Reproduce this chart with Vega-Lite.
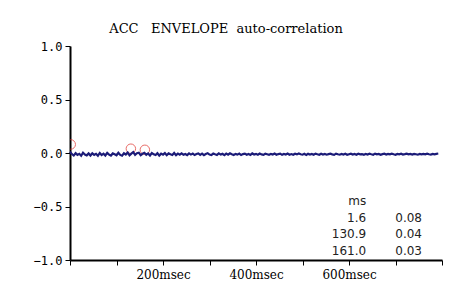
{
"$schema": "https://vega.github.io/schema/vega-lite/v6.json",
"width": 372, "height": 214,
"autosize": {"type": "none"},
"padding": {"left": 70, "top": 46, "right": 9, "bottom": 33},
"background": "white",
"config": {"view": {"stroke": null}},
"title": {"text": "ACC\u00a0\u00a0 ENVELOPE\u00a0\u00a0auto-correlation", "font": "DejaVu Serif", "fontSize": 13, "fontWeight": "normal", "color": "#000", "anchor": "middle", "dx": -30, "offset": 4},
"datasets": {
"acf": [
{"t":0,"v":0.012},{"t":4,"v":-0.01},{"t":8,"v":-0.024},{"t":12,"v":-0.002},{"t":16,"v":-0.018},{"t":20,"v":-0.008},{"t":24,"v":-0.026},{"t":28,"v":0.002},{"t":32,"v":-0.014},{"t":36,"v":-0.022},
{"t":40,"v":-0.004},{"t":44,"v":-0.024},{"t":48,"v":-0.003},{"t":52,"v":-0.017},{"t":56,"v":-0.008},{"t":60,"v":-0.026},{"t":64,"v":0.0},{"t":68,"v":-0.019},{"t":72,"v":-0.006},{"t":76,"v":-0.023},
{"t":80,"v":0.001},{"t":84,"v":-0.015},{"t":88,"v":-0.024},{"t":92,"v":-0.004},{"t":96,"v":-0.012},{"t":100,"v":-0.021},{"t":104,"v":0.002},{"t":108,"v":-0.018},{"t":112,"v":-0.025},{"t":116,"v":-0.003},
{"t":120,"v":-0.014},{"t":124,"v":0.005},{"t":128,"v":-0.022},{"t":132,"v":-0.006},{"t":136,"v":0.008},{"t":140,"v":-0.017},{"t":144,"v":-0.002},{"t":148,"v":0.003},{"t":152,"v":-0.02},{"t":156,"v":-0.007},
{"t":160,"v":0.002},{"t":164,"v":-0.016},{"t":168,"v":-0.004},{"t":172,"v":-0.023},{"t":176,"v":0.0},{"t":180,"v":-0.013},{"t":184,"v":-0.019},{"t":188,"v":-0.002},{"t":192,"v":-0.024},{"t":196,"v":-0.006},
{"t":200,"v":-0.015},{"t":204,"v":-0.001},{"t":208,"v":-0.021},{"t":212,"v":-0.004},{"t":216,"v":-0.012},{"t":220,"v":-0.019},{"t":224,"v":0.0},{"t":228,"v":-0.02},{"t":232,"v":-0.006},{"t":236,"v":-0.016},
{"t":240,"v":-0.003},{"t":244,"v":-0.017},{"t":248,"v":-0.009},{"t":252,"v":-0.02},{"t":256,"v":-0.004},{"t":260,"v":-0.015},{"t":264,"v":-0.006},{"t":268,"v":-0.019},{"t":272,"v":-0.01},{"t":276,"v":-0.004},
{"t":280,"v":-0.017},{"t":284,"v":-0.006},{"t":288,"v":-0.02},{"t":292,"v":-0.009},{"t":296,"v":-0.002},{"t":300,"v":-0.015},{"t":304,"v":-0.019},{"t":308,"v":-0.005},{"t":312,"v":-0.012},{"t":316,"v":-0.018},
{"t":320,"v":-0.004},{"t":324,"v":-0.015},{"t":328,"v":-0.008},{"t":332,"v":-0.02},{"t":336,"v":-0.006},{"t":340,"v":-0.016},{"t":344,"v":-0.003},{"t":348,"v":-0.012},{"t":352,"v":-0.018},{"t":356,"v":-0.008},
{"t":360,"v":-0.015},{"t":364,"v":-0.005},{"t":368,"v":-0.019},{"t":372,"v":-0.01},{"t":376,"v":-0.006},{"t":380,"v":-0.016},{"t":384,"v":-0.009},{"t":388,"v":-0.018},{"t":392,"v":-0.004},{"t":396,"v":-0.014},
{"t":400,"v":-0.008},{"t":404,"v":-0.016},{"t":408,"v":-0.005},{"t":412,"v":-0.013},{"t":416,"v":-0.018},{"t":420,"v":-0.007},{"t":424,"v":-0.012},{"t":428,"v":-0.017},{"t":432,"v":-0.008},{"t":436,"v":-0.014},
{"t":440,"v":-0.005},{"t":444,"v":-0.016},{"t":448,"v":-0.01},{"t":452,"v":-0.006},{"t":456,"v":-0.017},{"t":460,"v":-0.009},{"t":464,"v":-0.014},{"t":468,"v":-0.005},{"t":472,"v":-0.016},{"t":476,"v":-0.01},
{"t":480,"v":-0.017},{"t":484,"v":-0.007},{"t":488,"v":-0.013},{"t":492,"v":-0.004},{"t":496,"v":-0.012},{"t":500,"v":-0.016},{"t":504,"v":-0.008},{"t":508,"v":-0.018},{"t":512,"v":-0.007},{"t":516,"v":-0.014},
{"t":520,"v":-0.009},{"t":524,"v":-0.016},{"t":528,"v":-0.006},{"t":532,"v":-0.012},{"t":536,"v":-0.017},{"t":540,"v":-0.007},{"t":544,"v":-0.014},{"t":548,"v":-0.009},{"t":552,"v":-0.016},{"t":556,"v":-0.011},
{"t":560,"v":-0.007},{"t":564,"v":-0.013},{"t":568,"v":-0.017},{"t":572,"v":-0.006},{"t":576,"v":-0.012},{"t":580,"v":-0.016},{"t":584,"v":-0.009},{"t":588,"v":-0.014},{"t":592,"v":-0.007},{"t":596,"v":-0.017},
{"t":600,"v":-0.011},{"t":604,"v":-0.006},{"t":608,"v":-0.014},{"t":612,"v":-0.009},{"t":616,"v":-0.016},{"t":620,"v":-0.007},{"t":624,"v":-0.013},{"t":628,"v":-0.01},{"t":632,"v":-0.017},{"t":636,"v":-0.008},
{"t":640,"v":-0.014},{"t":644,"v":-0.007},{"t":648,"v":-0.012},{"t":652,"v":-0.016},{"t":656,"v":-0.006},{"t":660,"v":-0.013},{"t":664,"v":-0.009},{"t":668,"v":-0.017},{"t":672,"v":-0.011},{"t":676,"v":-0.007},
{"t":680,"v":-0.015},{"t":684,"v":-0.009},{"t":688,"v":-0.013},{"t":692,"v":-0.006},{"t":696,"v":-0.012},{"t":700,"v":-0.017},{"t":704,"v":-0.009},{"t":708,"v":-0.013},{"t":712,"v":-0.007},{"t":716,"v":-0.015},
{"t":720,"v":-0.011},{"t":724,"v":-0.006},{"t":728,"v":-0.013},{"t":732,"v":-0.009},{"t":736,"v":-0.015},{"t":740,"v":-0.008},{"t":744,"v":-0.012},{"t":748,"v":-0.016},{"t":752,"v":-0.009},{"t":756,"v":-0.013},
{"t":760,"v":-0.008},{"t":764,"v":-0.013},{"t":768,"v":-0.007},{"t":772,"v":-0.012},{"t":776,"v":-0.015},{"t":780,"v":-0.009},{"t":784,"v":-0.013},{"t":788,"v":-0.008},{"t":792,"v":-0.005}
],
"peaks": [
{"t":1.6,"v":0.08,"row":1},{"t":130.9,"v":0.04,"row":2},{"t":161.0,"v":0.03,"row":3}
]
},
"layer": [
{
"layer": [
{
"data": {"name": "peaks"},
"mark": {"type": "point", "shape": "circle", "filled": false, "stroke": "#e0302a", "strokeWidth": 1, "size": 90, "clip": true},
"encoding": {
"x": {"field": "t", "type": "quantitative", "scale": {"domain": [0, 800], "nice": false, "zero": false}},
"y": {"field": "v", "type": "quantitative", "scale": {"domain": [-1, 1], "nice": false}}
}
},
{
"data": {"name": "acf"},
"mark": {"type": "line", "color": "#1c1c78", "strokeWidth": 2.2},
"encoding": {
"x": {"field": "t", "type": "quantitative", "scale": {"domain": [0, 800], "nice": false, "zero": false},
"axis": {"title": null, "values": [0,50,100,150,200,250,300,350,400,450,500,550,600,650,700,750,800], "labelExpr": "datum.value % 200 == 0 && datum.value > 0 && datum.value < 800 ? datum.value + 'msec' : ''", "labelFont": "DejaVu Serif", "labelFontSize": 12, "labelColor": "#000", "labelPadding": 4, "tickSize": 5, "tickColor": "#000", "tickWidth": 1, "domainColor": "#000", "domainWidth": 2, "grid": false, "labelFlush": false, "labelOverlap": false}},
"y": {"field": "v", "type": "quantitative", "scale": {"domain": [-1, 1], "nice": false},
"axis": {"title": null, "values": [-1, -0.5, 0, 0.5, 1], "format": ".1f", "labelFont": "DejaVu Sans Mono", "labelFontSize": 12, "labelColor": "#000", "labelPadding": 3, "tickSize": 5, "tickColor": "#000", "domainColor": "#000", "domainWidth": 2, "grid": false}}
}
}
]
},
{
"data": {"name": "peaks"},
"mark": {"type": "text", "align": "right", "baseline": "middle", "font": "DejaVu Sans", "fontSize": 12, "color": "#222"},
"encoding": {
"x": {"datum": 637, "type": "quantitative", "scale": {"domain": [0, 800], "nice": false, "zero": false}},
"y": {"field": "row", "type": "quantitative", "scale": {"domain": [-9.28, 3.53], "reverse": true, "nice": false, "zero": false}, "axis": null},
"text": {"field": "t", "type": "quantitative", "format": ".1f"}
}
},
{
"data": {"name": "peaks"},
"mark": {"type": "text", "align": "right", "baseline": "middle", "font": "DejaVu Sans", "fontSize": 12, "color": "#222"},
"encoding": {
"x": {"datum": 757, "type": "quantitative", "scale": {"domain": [0, 800], "nice": false, "zero": false}},
"y": {"field": "row", "type": "quantitative", "scale": {"domain": [-9.28, 3.53], "reverse": true, "nice": false, "zero": false}, "axis": null},
"text": {"field": "v", "type": "quantitative", "format": ".2f"}
}
},
{
"data": {"values": [{"row": 0, "label": "ms"}]},
"mark": {"type": "text", "align": "right", "baseline": "middle", "font": "DejaVu Sans", "fontSize": 12, "color": "#222"},
"encoding": {
"x": {"datum": 637, "type": "quantitative", "scale": {"domain": [0, 800], "nice": false, "zero": false}},
"y": {"field": "row", "type": "quantitative", "scale": {"domain": [-9.28, 3.53], "reverse": true, "nice": false, "zero": false}, "axis": null},
"text": {"field": "label", "type": "nominal"}
}
}
],
"resolve": {"scale": {"y": "independent"}}
}
